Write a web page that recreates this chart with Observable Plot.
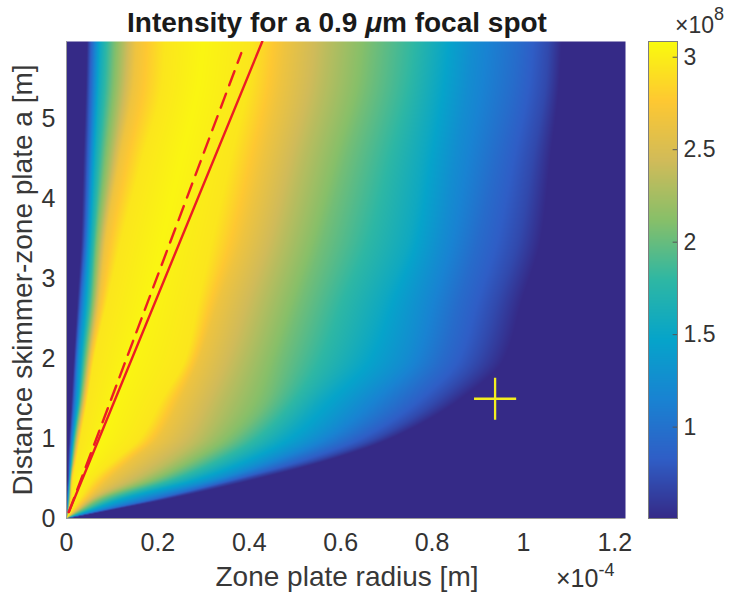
<!DOCTYPE html>
<html>
<head>
<meta charset="utf-8">
<script src="https://cdn.jsdelivr.net/npm/d3@7"></script>
<script src="https://cdn.jsdelivr.net/npm/@observablehq/plot@0.6"></script>
<style>
  body { margin: 0; background: #fff; font-family: "Liberation Sans", Arial, sans-serif; }
  #wrap { position: relative; width: 732px; height: 592px; overflow: hidden; background: #fff; }
  #wrap svg { position: absolute; top: 0; }
  .ov { position: absolute; white-space: nowrap; color: #333; line-height: 1; }
</style>
</head>
<body>
<div id="wrap"></div>
<script>
// ---- data (radius in 1e-4 m, intensity in 1e8) ----
// intensity levels whose radii were read along each row of constant distance a
const levels   = [0.5, 0.7, 0.95, 1.25, 1.55, 1.8, 2.05, 2.35, 2.65, 2.95];
const distance = [0, 0.1, 0.25, 0.5, 0.75, 1, 1.5, 2, 2.75, 3.5, 4.5, 5.5, 6];
// radius where the rising (inner) side reaches each level
const innerRadius = [
  [0,0,0,0,0,0,0,0,0,0],
  [0,0.0005,0.001,0.0015,0.002,0.0025,0.003,0.0035,0.004,0.005],
  [0,0.001,0.002,0.003,0.004,0.005,0.006,0.007,0.008,0.01],
  [0.003,0.004,0.005,0.006,0.007,0.008,0.009,0.010,0.011,0.014],
  [0.004,0.0055,0.007,0.009,0.011,0.012,0.014,0.016,0.018,0.022],
  [0.006,0.008,0.01,0.013,0.015,0.017,0.019,0.022,0.025,0.03],
  [0.011,0.014,0.017,0.021,0.026,0.029,0.032,0.036,0.04,0.046],
  [0.016,0.019,0.022,0.026,0.033,0.037,0.042,0.047,0.052,0.06],
  [0.024,0.028,0.032,0.038,0.045,0.051,0.057,0.064,0.072,0.09],
  [0.032,0.037,0.042,0.047,0.053,0.06,0.066,0.076,0.086,0.12],
  [0.037,0.043,0.049,0.055,0.062,0.072,0.083,0.1,0.116,0.165],
  [0.043,0.048,0.055,0.063,0.071,0.085,0.10,0.123,0.147,0.21],
  [0.045,0.05,0.057,0.065,0.074,0.088,0.104,0.128,0.152,0.215]
];
// radius where the falling (outer) side drops to each level
const outerRadius = [
  [0,0,0,0,0,0,0,0,0,0],
  [0.091,0.085,0.078,0.063,0.048,0.04,0.031,0.025,0.019,0.012],
  [0.227,0.21,0.196,0.157,0.12,0.10,0.078,0.062,0.047,0.03],
  [0.42,0.39,0.365,0.33,0.28,0.24,0.205,0.16,0.094,0.06],
  [0.585,0.555,0.505,0.45,0.39,0.34,0.295,0.235,0.147,0.11],
  [0.71,0.675,0.615,0.545,0.47,0.415,0.365,0.29,0.2,0.16],
  [0.865,0.815,0.74,0.65,0.56,0.5,0.44,0.34,0.25,0.21],
  [0.96,0.9,0.82,0.74,0.64,0.555,0.47,0.38,0.29,0.26],
  [1.0,0.945,0.86,0.78,0.695,0.605,0.515,0.425,0.335,0.29],
  [1.04,0.99,0.90,0.82,0.75,0.66,0.56,0.47,0.385,0.32],
  [1.06,1.02,0.94,0.85,0.78,0.705,0.61,0.515,0.43,0.36],
  [1.08,1.05,0.98,0.88,0.81,0.75,0.66,0.56,0.47,0.40],
  [1.085,1.055,0.99,0.89,0.82,0.76,0.67,0.57,0.48,0.41]
];
const peakRadius = [0, 0.006, 0.015, 0.03, 0.055, 0.08, 0.11, 0.14, 0.18, 0.21, 0.25, 0.29, 0.3];
const peakValue  = [3.05, 3.05, 3.05, 3.05, 3.05, 3.05, 3.05, 3.05, 3.05, 3.05, 3.05, 3.05, 3.05];
const floorValue = 0.4;

const solidR  = [0.005, 0.4285];
const solidA  = [0.08, 5.975];
const dashedR = [0.005, 0.3825];
const dashedA = [0.08, 5.83];
const markerR = [0.938];
const markerA = [1.5];
const xTicks = [0, 0.2, 0.4, 0.6, 0.8, 1, 1.2];
const xTickLabels = ["0", "0.2", "0.4", "0.6", "0.8", "1", "1.2"];
const yTicks = [0, 1, 2, 3, 4, 5];
const yTickLabels = ["0", "1", "2", "3", "4", "5"];
const cbTicks = [1, 1.5, 2, 2.5, 3];
const cbTickLabels = ["1", "1.5", "2", "2.5", "3"];
const xDomain = [0, 1.2234];
const yDomain = [0, 5.975];
const cDomain = [0.506, 3.085];

// ---- styling ----
const parula = ["#352a87", "#2f5ec6", "#1983d2", "#06a4ca", "#2eb7a4", "#87bf69", "#d1bb59", "#fec832", "#f9fb0e"];
const colorScale = {
  type: "linear",
  domain: parula.map((_, i) => cDomain[0] + (i / (parula.length - 1)) * (cDomain[1] - cDomain[0])),
  range: parula,
  clamp: true
};
const FONT = "Liberation Sans, Arial, Helvetica, sans-serif";

// ---- smooth (monotone cubic) interpolation of the read radii along a ----
function tangents(ys) {
  const xs = distance, n = xs.length, m = new Array(n);
  const d = [];
  for (let i = 0; i < n - 1; i++) d.push((ys[i + 1] - ys[i]) / (xs[i + 1] - xs[i]));
  m[0] = d[0]; m[n - 1] = d[n - 2];
  for (let i = 1; i < n - 1; i++) {
    if (d[i - 1] * d[i] <= 0) { m[i] = 0; continue; }
    const h0 = xs[i] - xs[i - 1], h1 = xs[i + 1] - xs[i];
    const w1 = 2 * h1 + h0, w2 = h1 + 2 * h0;
    m[i] = (w1 + w2) / (w1 / d[i - 1] + w2 / d[i]);
  }
  return m;
}
function makeSeries(ys) { return {ys, ms: tangents(ys)}; }
const innerSeries = levels.map((_, k) => makeSeries(innerRadius.map(row => row[k])));
const outerSeries = levels.map((_, k) => makeSeries(outerRadius.map(row => row[k])));
const peakSeries = makeSeries(peakRadius);
const peakVSeries = makeSeries(peakValue);
function hermite(s, j, t, h) {
  const t2 = t * t, t3 = t2 * t;
  return (2 * t3 - 3 * t2 + 1) * s.ys[j] + (t3 - 2 * t2 + t) * h * s.ms[j]
       + (-2 * t3 + 3 * t2) * s.ys[j + 1] + (t3 - t2) * h * s.ms[j + 1];
}
let cacheA = null, cache = null;
function profileAt(a) {
  if (a === cacheA) return cache;
  const nr = distance.length;
  const j = Math.max(0, Math.min(nr - 2, d3.bisectRight(distance, a) - 1));
  const h = distance[j + 1] - distance[j];
  const t = Math.max(0, Math.min(1, (a - distance[j]) / h));
  cache = {
    inner: innerSeries.map(s => Math.max(0, hermite(s, j, t, h))),
    outer: outerSeries.map(s => Math.max(0, hermite(s, j, t, h))),
    pk: hermite(peakSeries, j, t, h),
    pv: hermite(peakVSeries, j, t, h)
  };
  cacheA = a;
  return cache;
}
function sample(r, a) {
  const P = profileAt(a);
  const seg = (p0, v0, p1, v1) => (p1 - p0) <= 1e-9 ? v1 : v0 + (v1 - v0) * (r - p0) / (p1 - p0);
  if (r <= P.pk) {
    let pp = null, vp = null;
    for (let k = 0; k < levels.length; k++) {
      const p = P.inner[k];
      if (r < p) return k === 0 ? floorValue : seg(pp, vp, p, levels[k]);
      pp = p; vp = levels[k];
    }
    return seg(pp, vp, P.pk, P.pv);
  } else {
    let pp = P.pk, vp = P.pv;
    for (let k = levels.length - 1; k >= 0; k--) {
      const p = P.outer[k];
      if (r < p) return seg(pp, vp, p, levels[k]);
      pp = p; vp = levels[k];
    }
    return floorValue;
  }
}

const solid = solidR.map((r, k) => ({r, a: solidA[k]}));
const dashed = dashedR.map((r, k) => ({r, a: dashedA[k]}));
const marker = markerR.map((r, k) => ({r, a: markerA[k]}));

const main = Plot.plot({
  width: 732, height: 592,
  marginLeft: 66, marginRight: 107, marginTop: 41, marginBottom: 74,
  style: {fontFamily: FONT, fontSize: "25px", color: "#333", background: "transparent", overflow: "visible"},
  x: {domain: xDomain},
  y: {domain: yDomain},
  color: colorScale,
  marks: [
    Plot.raster({x1: xDomain[0], x2: xDomain[1], y1: yDomain[0], y2: yDomain[1], fill: (x, y) => sample(x, y), pixelSize: 1}),
    Plot.line(solid, {x: "r", y: "a", stroke: "#ec1c24", strokeWidth: 2.4, clip: true}),
    Plot.line(dashed, {x: "r", y: "a", stroke: "#ec1c24", strokeWidth: 2.4, strokeDasharray: "15,9", clip: true}),
    Plot.dot(marker, {x: "r", y: "a", symbol: "plus", r: 13.6, stroke: "#f4ee20", strokeWidth: 2.3}),
    Plot.ruleX([0], {stroke: "#9a9a9a", strokeWidth: 1}),
    Plot.ruleY([0], {stroke: "#9a9a9a", strokeWidth: 1}),
    Plot.axisX({ticks: xTicks, tickFormat: d => xTickLabels[xTicks.indexOf(d)], tickSize: 0, tickPadding: 15, label: null, fontSize: 25, fill: "#333"}),
    Plot.axisY({ticks: yTicks, tickFormat: d => yTickLabels[yTicks.indexOf(d)], tickSize: 0, tickPadding: 11, label: null, fontSize: 25, fill: "#333"}),
    Plot.text(["Zone plate radius [m]"], {frameAnchor: "bottom", textAnchor: "middle", lineAnchor: "middle", dy: 59, dx: 1, fontSize: 28, fill: "#383838"}),
    Plot.text(["Distance skimmer-zone plate a [m]"], {frameAnchor: "left", textAnchor: "middle", lineAnchor: "middle", rotate: -90, dx: -43.5, fontSize: 28, fill: "#383838"})
  ]
});
main.style.left = "0px";

const bar = Plot.plot({
  width: 92, height: 592,
  marginLeft: 8, marginRight: 55, marginTop: 41, marginBottom: 74,
  style: {fontFamily: FONT, fontSize: "23px", color: "#333", background: "transparent", overflow: "visible"},
  x: {domain: [0, 1], axis: null},
  y: {domain: cDomain, axis: null},
  color: colorScale,
  marks: [
    Plot.raster({x1: 0, x2: 1, y1: cDomain[0], y2: cDomain[1], fill: (x, y) => y, pixelSize: 1}),
    Plot.frame({stroke: "#7d7d7d", strokeWidth: 1}),
    Plot.ruleY(cbTicks, {x1: 0.85, x2: 1, stroke: "#555", strokeWidth: 1}),
    Plot.axisY({anchor: "right", ticks: cbTicks, tickFormat: d => cbTickLabels[cbTicks.indexOf(d)], tickSize: 0, tickPadding: 6, label: null, fontSize: 23, fill: "#333"})
  ]
});
bar.style.left = "640px";

const wrap = document.getElementById("wrap");
wrap.appendChild(main);
wrap.appendChild(bar);

function overlay(html, css) {
  const d = document.createElement("div");
  d.className = "ov";
  d.innerHTML = html;
  Object.assign(d.style, css);
  wrap.appendChild(d);
}
overlay('Intensity for a 0.9 <i>\u03BC</i>m focal spot', {left: "0px", width: "674px", textAlign: "center", top: "9px", fontSize: "28px", fontWeight: "bold", color: "#1a1a1a", fontFamily: FONT});
overlay('\u00D710<span style="font-size:18px;position:relative;top:-13px;">8</span>', {left: "675px", top: "14px", fontSize: "23px", fontFamily: FONT});
overlay('\u00D710<span style="font-size:18px;position:relative;top:-11px;">-4</span>', {left: "556px", top: "566px", fontSize: "25px", fontFamily: FONT});
</script>
</body>
</html>
